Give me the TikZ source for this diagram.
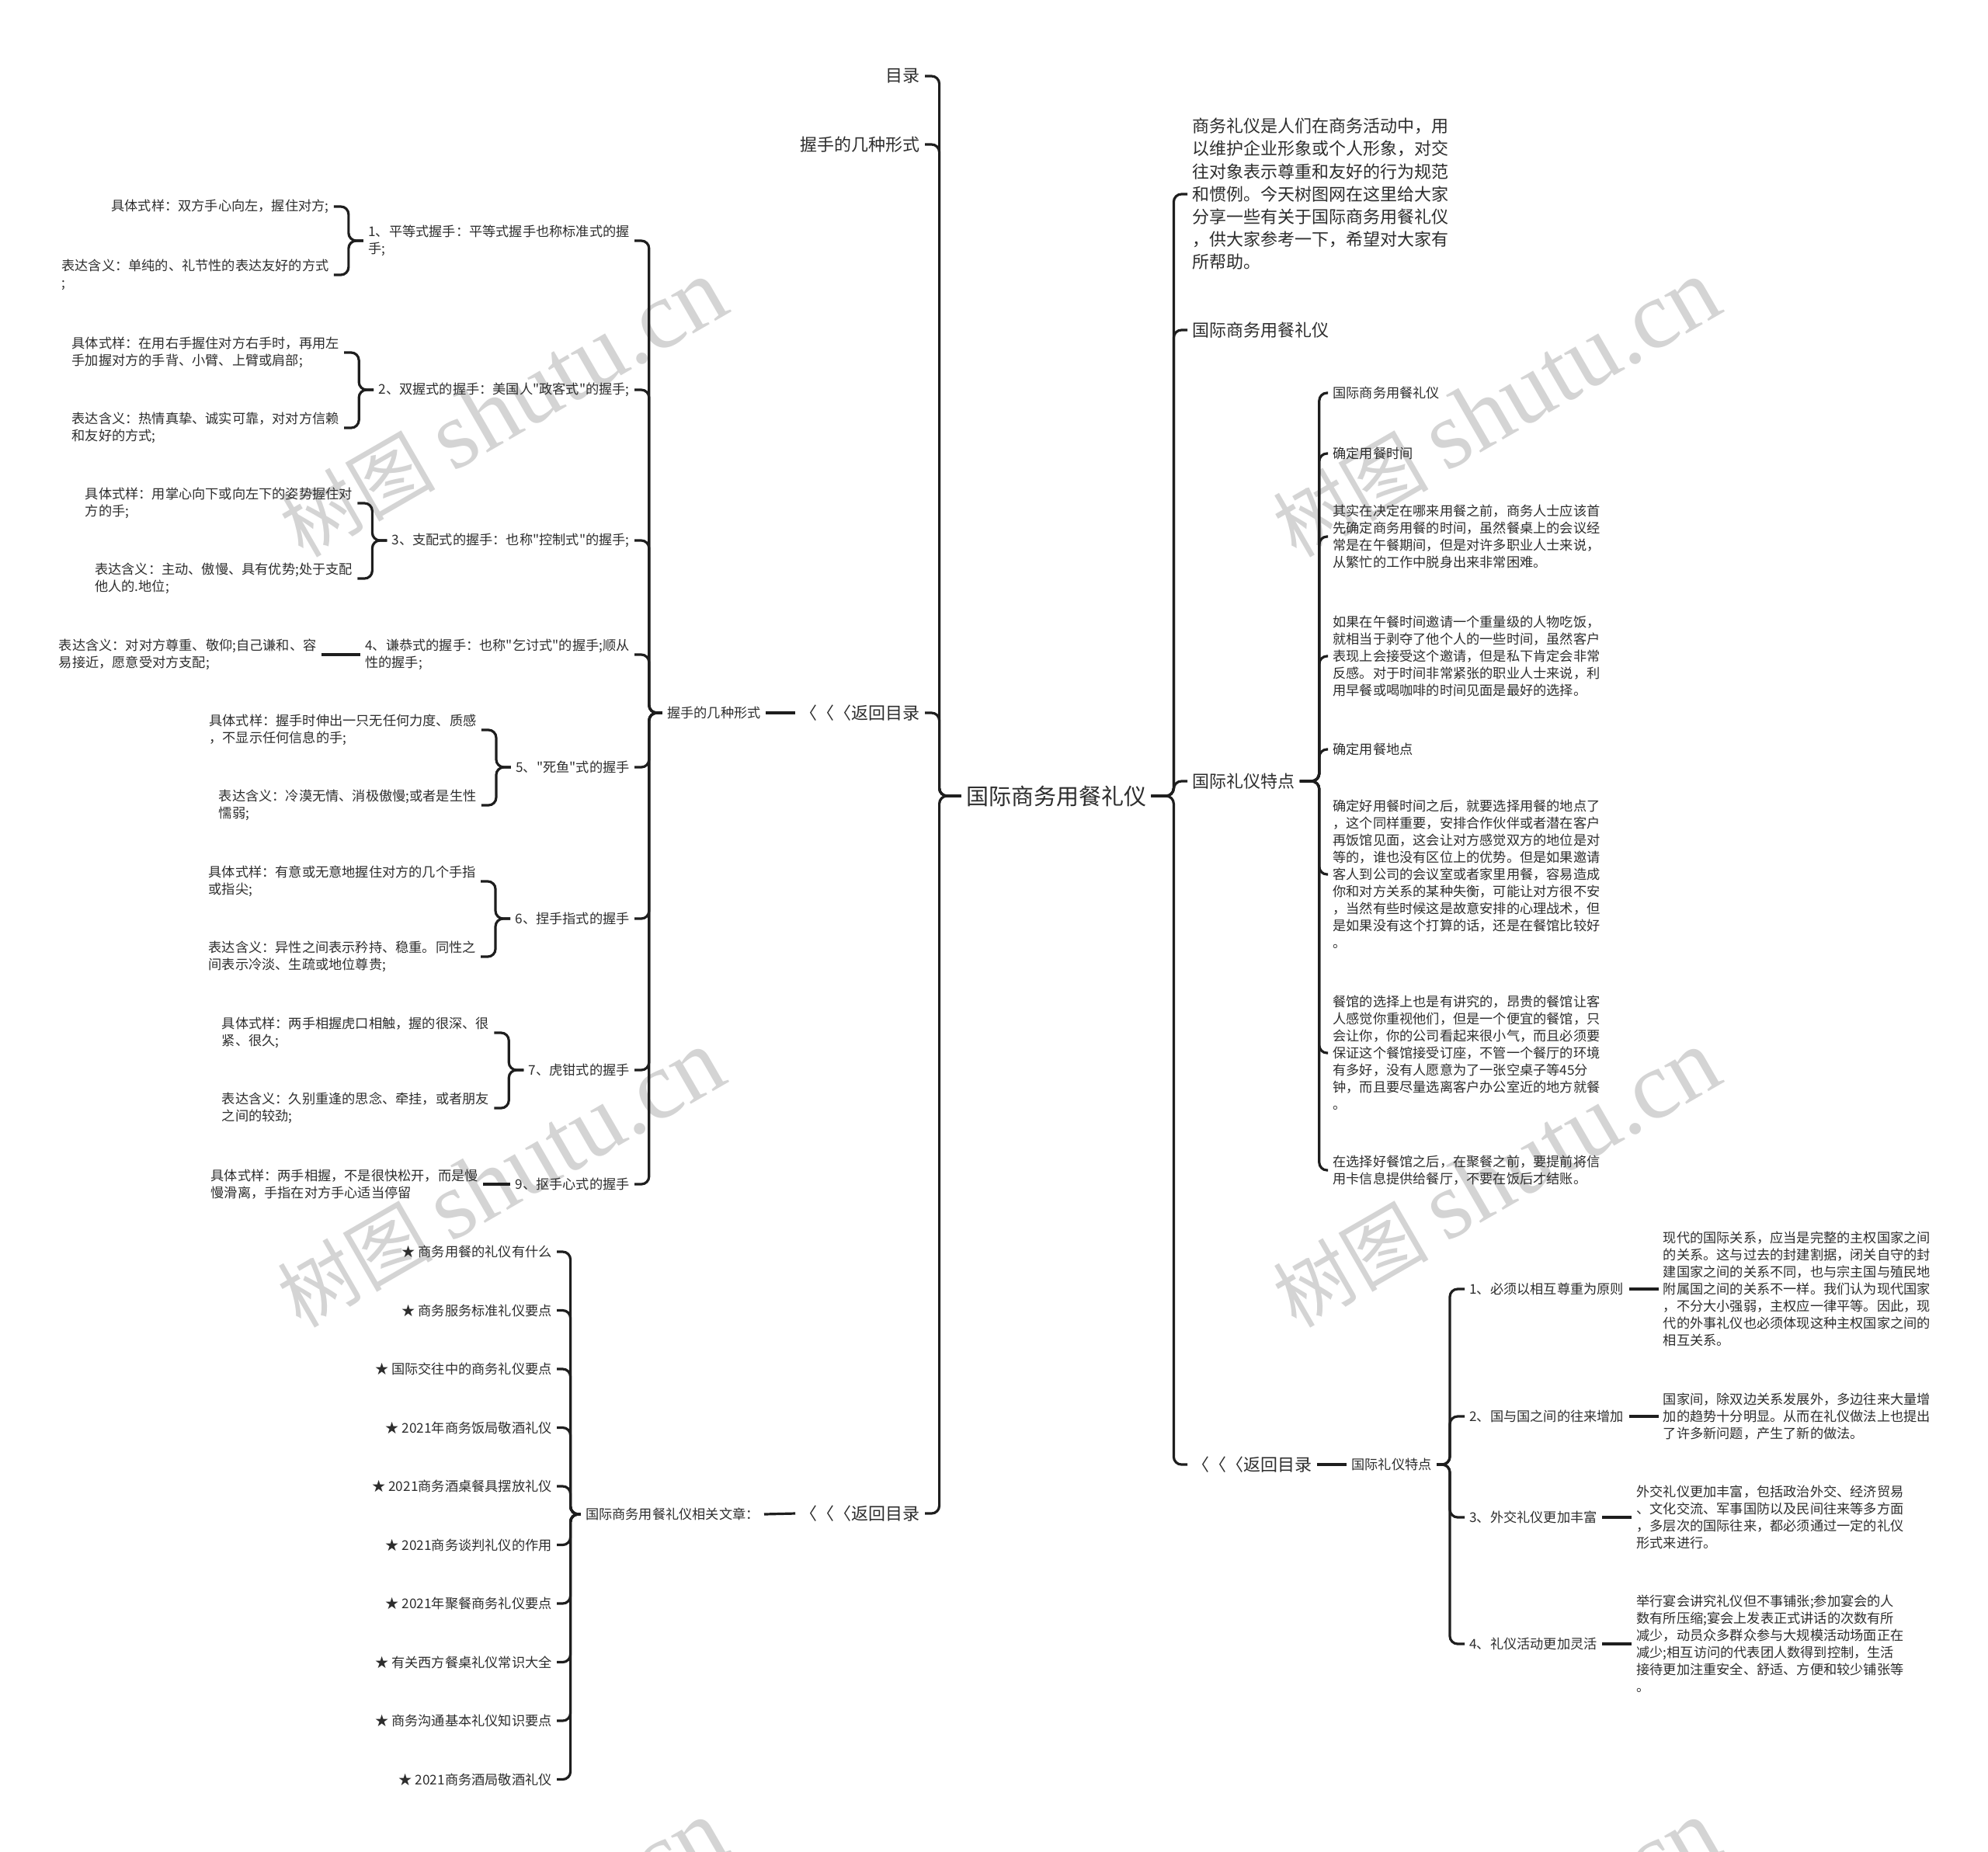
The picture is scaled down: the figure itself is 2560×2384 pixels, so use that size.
\documentclass[tikz,border=0pt]{standalone}
\usepackage{fontspec}
\usepackage{tikz}
\usetikzlibrary{positioning, calc}
\newfontfamily\cjk{Noto Sans CJK SC}
\newfontfamily\wmlatin{Liberation Serif}
\definecolor{inkline}{RGB}{30,30,30}
\definecolor{inktext}{RGB}{45,45,45}
\definecolor{markgray}{RGB}{212,212,212}
\tikzset{
  txt/.style={inner xsep=3pt, inner ysep=1pt, align=left, text=inktext},
  leaf/.style={txt, font=\cjk\fontsize{8.6}{11}\selectfont},
  mid/.style={txt, font=\cjk\fontsize{11}{14.6}\selectfont},
  rootnode/.style={txt, font=\cjk\fontsize{14.5}{18}\selectfont},
  link/.style={draw=inkline, line width=1.6pt, rounded corners=5pt},
  wm/.style={text=markgray, rotate=30, inner sep=0pt}
}

\begin{document}
\begin{tikzpicture}[x=0.5pt, y=-0.5pt]
  \useasboundingbox (0,0) rectangle (2560,2384);

  % 水印
  \begin{scope}
    \clip (0,0) rectangle (2560,2384);
    \foreach \wx/\wy [count=\k] in {648/526, 1927/526, 645/1518, 1927/1518, 648/2510, 1927/2510}
      \node[wm] (mark\k) at (\wx,\wy)
        {\cjk\fontsize{50}{50}\selectfont 树图 \wmlatin\fontsize{62}{62}\selectfont shutu.cn};
  \end{scope}

  % 中心
  \node[rootnode] (root) at (1360,1025) {国际商务用餐礼仪};

  % 左侧一级
  \node[mid, anchor=east] (toc) at (1191,98) {目录};
  \node[mid, anchor=east] (hsform) at (1191,186) {握手的几种形式};
  \node[mid, anchor=east] (backL1) at (1191,918) {〈〈〈返回目录};
  \node[mid, anchor=east] (backL2) at (1191,1949) {〈〈〈返回目录};
  \foreach \c in {toc, hsform, backL1, backL2}
    \draw[link] (root.west) -- ++(-28,0) |- (\c.east);

  % 右侧一级
  \node[mid, anchor=west] (intro) at (1529,250) {商务礼仪是人们在商务活动中，用\\以维护企业形象或个人形象，对交\\往对象表示尊重和友好的行为规范\\和惯例。今天树图网在这里给大家\\分享一些有关于国际商务用餐礼仪\\，供大家参考一下，希望对大家有\\所帮助。};
  \node[mid, anchor=west] (dining) at (1529,425) {国际商务用餐礼仪};
  \node[mid, anchor=west] (feat) at (1529,1006) {国际礼仪特点};
  \node[mid, anchor=west] (backR) at (1529,1886) {〈〈〈返回目录};
  \foreach \c in {intro, dining, feat, backR}
    \draw[link] (root.east) -- ++(29,0) |- (\c.west);

  % 国际礼仪特点
  \node[leaf, anchor=west] (fa) at (1710,506) {国际商务用餐礼仪};
  \node[leaf, anchor=west] (fb) at (1710,584) {确定用餐时间};
  \node[leaf, anchor=west] (fc) at (1710,691) {其实在决定在哪来用餐之前，商务人士应该首\\先确定商务用餐的时间，虽然餐桌上的会议经\\常是在午餐期间，但是对许多职业人士来说，\\从繁忙的工作中脱身出来非常困难。};
  \node[leaf, anchor=west] (fd) at (1710,845) {如果在午餐时间邀请一个重量级的人物吃饭，\\就相当于剥夺了他个人的一些时间，虽然客户\\表现上会接受这个邀请，但是私下肯定会非常\\反感。对于时间非常紧张的职业人士来说，利\\用早餐或喝咖啡的时间见面是最好的选择。};
  \node[leaf, anchor=west] (fe) at (1710,965) {确定用餐地点};
  \node[leaf, anchor=west] (ff) at (1710,1126) {确定好用餐时间之后，就要选择用餐的地点了\\，这个同样重要，安排合作伙伴或者潜在客户\\再饭馆见面，这会让对方感觉双方的地位是对\\等的，谁也没有区位上的优势。但是如果邀请\\客人到公司的会议室或者家里用餐，容易造成\\你和对方关系的某种失衡，可能让对方很不安\\，当然有些时候这是故意安排的心理战术，但\\是如果没有这个打算的话，还是在餐馆比较好\\。};
  \node[leaf, anchor=west] (fg) at (1710,1356) {餐馆的选择上也是有讲究的，昂贵的餐馆让客\\人感觉你重视他们，但是一个便宜的餐馆，只\\会让你，你的公司看起来很小气，而且必须要\\保证这个餐馆接受订座，不管一个餐厅的环境\\有多好，没有人愿意为了一张空桌子等45分\\钟，而且要尽量选离客户办公室近的地方就餐\\。};
  \node[leaf, anchor=west] (fh) at (1710,1507) {在选择好餐馆之后，在聚餐之前，要提前将信\\用卡信息提供给餐厅，不要在饭后才结账。};
  \foreach \c in {fa, fb, fc, fd, fe, ff, fg, fh}
    \draw[link] (feat.east) -- ++(25,0) |- (\c.west);

  % 右下 国际礼仪特点
  \node[leaf, anchor=west] (featB) at (1734,1886) {国际礼仪特点};
  \draw[link] (backR.east) -- (featB.west);
  \node[leaf, anchor=west] (pr1) at (1886,1660) {1、必须以相互尊重为原则};
  \node[leaf, anchor=west] (pr2) at (1886,1824) {2、国与国之间的往来增加};
  \node[leaf, anchor=west] (pr3) at (1886,1954) {3、外交礼仪更加丰富};
  \node[leaf, anchor=west] (pr4) at (1886,2117) {4、礼仪活动更加灵活};
  \foreach \c in {pr1, pr2, pr3, pr4}
    \draw[link] (featB.east) -- ++(17,0) |- (\c.west);
  \node[leaf, right=19pt of pr1] (ex1) {现代的国际关系，应当是完整的主权国家之间\\的关系。这与过去的封建割据，闭关自守的封\\建国家之间的关系不同，也与宗主国与殖民地\\附属国之间的关系不一样。我们认为现代国家\\，不分大小强弱，主权应一律平等。因此，现\\代的外事礼仪也必须体现这种主权国家之间的\\相互关系。};
  \node[leaf, right=19pt of pr2] (ex2) {国家间，除双边关系发展外，多边往来大量增\\加的趋势十分明显。从而在礼仪做法上也提出\\了许多新问题，产生了新的做法。};
  \node[leaf, right=19pt of pr3] (ex3) {外交礼仪更加丰富，包括政治外交、经济贸易\\、文化交流、军事国防以及民间往来等多方面\\，多层次的国际往来，都必须通过一定的礼仪\\形式来进行。};
  \node[leaf, right=19pt of pr4] (ex4) {举行宴会讲究礼仪但不事铺张;参加宴会的人\\数有所压缩;宴会上发表正式讲话的次数有所\\减少，动员众多群众参与大规模活动场面正在\\减少;相互访问的代表团人数得到控制，生活\\接待更加注重安全、舒适、方便和较少铺张等\\。};
  \foreach \a/\b in {pr1/ex1, pr2/ex2, pr3/ex3, pr4/ex4}
    \draw[link] (\a.east) -- (\b.west);

  % 握手的几种形式
  \node[leaf, anchor=east] (hsformB) at (986,918) {握手的几种形式};
  \draw[link] (backL1.west) -- (hsformB.east);
  \node[leaf, anchor=east] (hs1) at (817,310) {1、平等式握手：平等式握手也称标准式的握\\手;};
  \node[leaf, anchor=east] (hs2) at (817,502) {2、双握式的握手：美国人"政客式"的握手;};
  \node[leaf, anchor=east] (hs3) at (817,696) {3、支配式的握手：也称"控制式"的握手;};
  \node[leaf, anchor=east] (hs4) at (817,843) {4、谦恭式的握手：也称"乞讨式"的握手;顺从\\性的握手;};
  \node[leaf, anchor=east] (hs5) at (817,988) {5、"死鱼"式的握手};
  \node[leaf, anchor=east] (hs6) at (817,1183) {6、捏手指式的握手};
  \node[leaf, anchor=east] (hs7) at (817,1378) {7、虎钳式的握手};
  \node[leaf, anchor=east] (hs9) at (817,1525) {9、抠手心式的握手};
  \foreach \c in {hs1, hs2, hs3, hs4, hs5, hs6, hs7, hs9}
    \draw[link] (hsformB.west) -- ++(-17,0) |- (\c.east);

  % 各式样与含义
  \node[leaf, anchor=east] (hs1a) at ($(hs1.west)+(-38,-44)$) {具体式样：双方手心向左，握住对方;};
  \node[leaf, anchor=east] (hs1b) at ($(hs1.west)+(-38,44)$) {表达含义：单纯的、礼节性的表达友好的方式\\;};
  \node[leaf, anchor=east] (hs2a) at ($(hs2.west)+(-38,-48)$) {具体式样：在用右手握住对方右手时，再用左\\手加握对方的手背、小臂、上臂或肩部;};
  \node[leaf, anchor=east] (hs2b) at ($(hs2.west)+(-38,49)$) {表达含义：热情真挚、诚实可靠，对对方信赖\\和友好的方式;};
  \node[leaf, anchor=east] (hs3a) at ($(hs3.west)+(-38,-48)$) {具体式样：用掌心向下或向左下的姿势握住对\\方的手;};
  \node[leaf, anchor=east] (hs3b) at ($(hs3.west)+(-38,49)$) {表达含义：主动、傲慢、具有优势;处于支配\\他人的.地位;};
  \node[leaf, left=25pt of hs4] (hs4a) {表达含义：对对方尊重、敬仰;自己谦和、容\\易接近，愿意受对方支配;};
  \node[leaf, anchor=east] (hs5a) at ($(hs5.west)+(-38,-48)$) {具体式样：握手时伸出一只无任何力度、质感\\，不显示任何信息的手;};
  \node[leaf, anchor=east] (hs5b) at ($(hs5.west)+(-38,49)$) {表达含义：冷漠无情、消极傲慢;或者是生性\\懦弱;};
  \node[leaf, anchor=east] (hs6a) at ($(hs6.west)+(-38,-48)$) {具体式样：有意或无意地握住对方的几个手指\\或指尖;};
  \node[leaf, anchor=east] (hs6b) at ($(hs6.west)+(-38,49)$) {表达含义：异性之间表示矜持、稳重。同性之\\间表示冷淡、生疏或地位尊贵;};
  \node[leaf, anchor=east] (hs7a) at ($(hs7.west)+(-38,-48)$) {具体式样：两手相握虎口相触，握的很深、很\\紧、很久;};
  \node[leaf, anchor=east] (hs7b) at ($(hs7.west)+(-38,49)$) {表达含义：久别重逢的思念、牵挂，或者朋友\\之间的较劲;};
  \node[leaf, left=17.5pt of hs9] (hs9a) {具体式样：两手相握，不是很快松开，而是慢\\慢滑离，手指在对方手心适当停留};
  \foreach \p in {hs1, hs2, hs3, hs5, hs6, hs7} {
    \draw[link] (\p.west) -- ++(-19,0) |- (\p a.east);
    \draw[link] (\p.west) -- ++(-19,0) |- (\p b.east);
  }
  \draw[link] (hs4.west) -- (hs4a.east);
  \draw[link] (hs9.west) -- (hs9a.east);

  % 相关文章
  \node[leaf, anchor=east] (related) at (984,1950) {国际商务用餐礼仪相关文章：};
  \draw[link] (backL2.west) -- (related.east);
  \foreach \t [count=\i from 0] in {商务用餐的礼仪有什么, 商务服务标准礼仪要点, 国际交往中的商务礼仪要点, 2021年商务饭局敬酒礼仪, 2021商务酒桌餐具摆放礼仪, 2021商务谈判礼仪的作用, 2021年聚餐商务礼仪要点, 有关西方餐桌礼仪常识大全, 商务沟通基本礼仪知识要点, 2021商务酒局敬酒礼仪} {
    \node[leaf, anchor=east] (art\i) at (717,{1612+75.5*\i}) {★ \t};
    \draw[link] (related.west) -- ++(-13,0) |- (art\i.east);
  }
\end{tikzpicture}
\end{document}
